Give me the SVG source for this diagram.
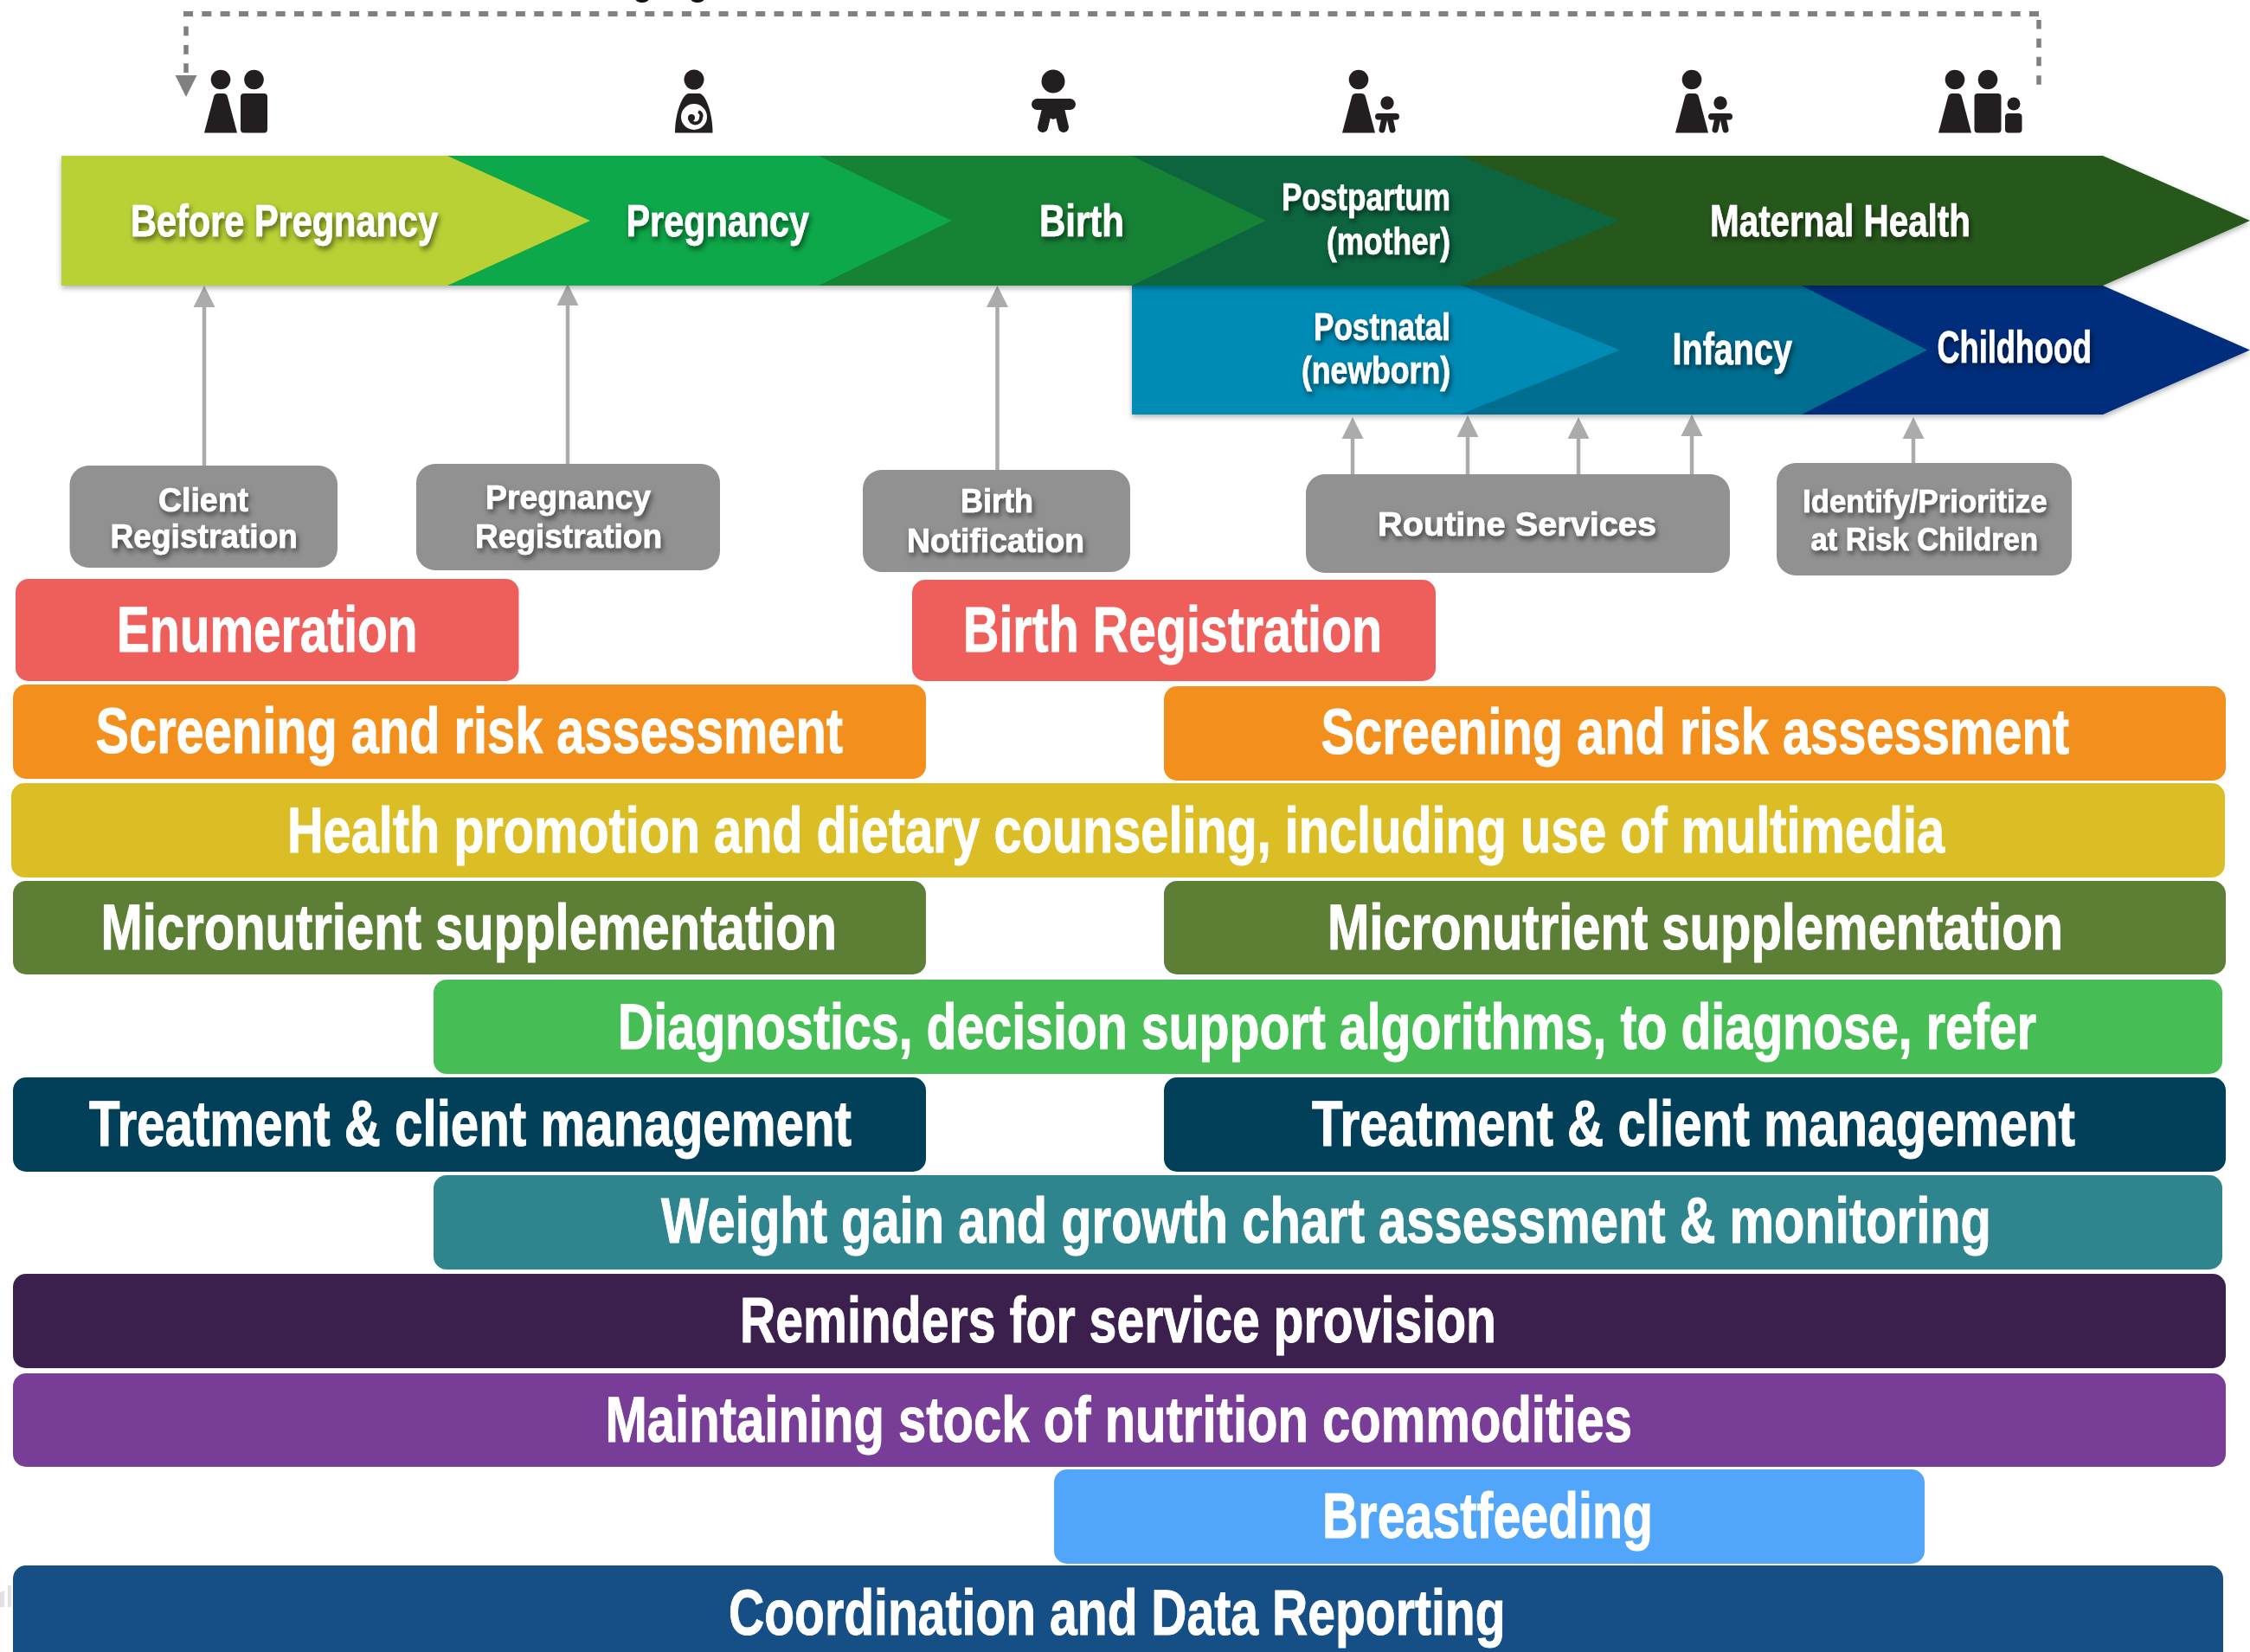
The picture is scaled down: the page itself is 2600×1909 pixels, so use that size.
<svg xmlns="http://www.w3.org/2000/svg" xmlns:xlink="http://www.w3.org/1999/xlink" width="2600" height="1909" viewBox="0 0 2600 1909">
<style>
text{font-family:"Liberation Sans",Arial,sans-serif;font-weight:700;fill:#fff;stroke:#fff;stroke-width:.7}
.s{filter:url(#ts)}
.a{font-size:52px}
.m{font-size:45px}
.b{font-size:39px}
.i{font-size:36px}
.l{font-size:74px;stroke-width:1}
.g{fill:#919191}
.ic{fill:#231f20}
.c{stroke:#ababab;stroke-width:4.5;fill:none;marker-end:url(#ah)}
.d{stroke:#808080;fill:none}
</style>
<defs>
<filter id="ts" x="-10%" y="-30%" width="120%" height="170%"><feDropShadow dx="2" dy="4" stdDeviation="3" flood-color="#000" flood-opacity=".55"/></filter>
<filter id="as" x="-5%" y="-10%" width="110%" height="125%"><feDropShadow dx="0" dy="3" stdDeviation="3" flood-color="#000" flood-opacity=".3"/></filter>
<marker id="ah" markerUnits="userSpaceOnUse" markerWidth="26" markerHeight="26" refX="0" refY="12.5" orient="auto" viewBox="0 0 26 25"><path d="M0,0L25,12.5L0,25Z" fill="#ababab"/></marker>
<marker id="dh" markerUnits="userSpaceOnUse" markerWidth="26" markerHeight="26" refX="0" refY="12.5" orient="auto" viewBox="0 0 26 25"><path d="M0,0L25,12.5L0,25Z" fill="#808080"/></marker>
<g id="woman" class="ic"><circle cx="0" cy="92" r="11.3"/><path d="M-19,153.5L-8,112Q-7,108 -3,108L3,108Q7,108 8,112L19,153.5Z"/></g>
<g id="man" class="ic"><circle cx="0" cy="92" r="11.3"/><rect x="-15.5" y="108" width="31" height="45.5" rx="4"/></g>
<g id="child"><circle class="ic" cx="0" cy="119" r="7.7"/><rect class="ic" x="-14" y="131" width="28" height="7.5" rx="3.7"/><path d="M-3,136L-6,150M3,136L6,150" stroke="#231f20" stroke-width="7" stroke-linecap="round" fill="none"/></g>
</defs>
<rect width="2600" height="1909" fill="#fff"/>

<g id="clipped-marks">
<ellipse cx="742" cy="-1" rx="7.5" ry="4" fill="#111"/>
<ellipse cx="806" cy="-1" rx="7.5" ry="4" fill="#111"/>
<path d="M0,1840L5,1838L5,1857L0,1857ZM9,1832L13,1832L13,1857L9,1857Z" fill="#e2e2e2"/>
</g>

<g id="connectors">
<path class="d" stroke-width="6" stroke-dasharray="11 10.33" d="M212,16H2357"/>
<path class="d" stroke-width="5.5" stroke-dasharray="10.5 10.9" d="M2356,23V98"/>
<path class="d" stroke-width="5.5" stroke-dasharray="10.8 10.6" marker-end="url(#dh)" d="M215,30.5V87"/>
<path class="c" d="M236,538V355"/>
<path class="c" d="M656,536V353"/>
<path class="c" d="M1152.5,543V355"/>
<path class="c" d="M1563,548V507"/>
<path class="c" d="M1696,548V505"/>
<path class="c" d="M1824,548V507"/>
<path class="c" d="M1955,548V504"/>
<path class="c" d="M2211,535V507"/>
</g>

<g id="icon-before-pregnancy"><use href="#woman" x="255"/><use href="#man" x="293.5"/></g>
<g id="icon-pregnancy">
<circle class="ic" cx="802" cy="92" r="11.5"/>
<path class="ic" d="M780,153.5C780,130 789,108 796,108L808,108C815,108 823.5,130 823.5,153.5Z"/>
<circle cx="802" cy="135" r="15" fill="#fff"/>
<path d="M797,136A6.5,6.5 0 0 0 810,136Q812,131 807,129" stroke="#231f20" stroke-width="4" fill="none"/>
<circle class="ic" cx="799" cy="136" r="4"/>
</g>
<g id="icon-birth">
<circle class="ic" cx="1217" cy="94" r="13.5"/>
<rect class="ic" x="1192" y="114" width="51" height="13" rx="6.5"/>
<path d="M1211,122L1205,147M1223,122L1229,147" stroke="#231f20" stroke-width="12" stroke-linecap="round" fill="none"/>
<path class="ic" d="M1208,122H1226L1222,136L1217,138L1212,136Z"/>
</g>
<g id="icon-postpartum"><use href="#woman" x="1570"/><use href="#child" x="1603"/></g>
<g id="icon-maternal"><use href="#woman" x="1955"/><use href="#child" x="1988"/></g>
<g id="icon-childhood"><use href="#woman" x="2259"/><use href="#man" x="2297"/>
<circle class="ic" cx="2327" cy="120" r="7.5"/><rect class="ic" x="2317" y="131" width="19.5" height="22.5" rx="4"/></g>

<g id="lifecycle-lower" filter="url(#as)">
<path d="M2082,330H2430L2600,404.5L2430,479H2082Z" fill="#002e7b"/>
<path d="M1687,330H2082L2227,404.5L2082,479H1687Z" fill="#006e91"/>
<path d="M1308,329H1687L1872,404.5L1687,479H1308Z" fill="#018bb5"/>
</g>
<g id="lifecycle-upper" filter="url(#as)">
<path d="M1687,180H2430L2600,255L2430,330H1687Z" fill="#25581b"/>
<path d="M1308,180H1687L1872,255L1687,330H1308Z" fill="#0e653f"/>
<path d="M946,180H1308L1463,255L1308,330H946Z" fill="#128235"/>
<path d="M517,180H946L1100,255L946,330H517Z" fill="#08a84a"/>
<path d="M71,180H517L682,255L517,330H71Z" fill="#b9d135"/>
</g>
<g id="lifecycle-labels">
<text class="a s" x="151" y="273" textLength="355" lengthAdjust="spacingAndGlyphs">Before Pregnancy</text>
<text class="a s" x="723.5" y="273" textLength="211.5" lengthAdjust="spacingAndGlyphs">Pregnancy</text>
<text class="a s" x="1201" y="273" textLength="98" lengthAdjust="spacingAndGlyphs">Birth</text>
<text class="m s" x="1481" y="243" textLength="195" lengthAdjust="spacingAndGlyphs">Postpartum</text>
<text class="m s" x="1533" y="294" textLength="143" lengthAdjust="spacingAndGlyphs">(mother)</text>
<text class="a s" x="1976" y="273" textLength="301" lengthAdjust="spacingAndGlyphs">Maternal Health</text>
<text class="m s" x="1518" y="393" textLength="158" lengthAdjust="spacingAndGlyphs">Postnatal</text>
<text class="m s" x="1504" y="443" textLength="172" lengthAdjust="spacingAndGlyphs">(newborn)</text>
<text class="a s" x="1932.5" y="421" textLength="138.5" lengthAdjust="spacingAndGlyphs">Infancy</text>
<text class="a s" x="2238.5" y="419" textLength="178.5" lengthAdjust="spacingAndGlyphs">Childhood</text>
</g>

<g id="client-registration"><rect class="g" x="80.5" y="538" width="309.5" height="118" rx="22"/>
<text class="b s" x="183" y="591" textLength="104" lengthAdjust="spacingAndGlyphs">Client</text>
<text class="b s" x="127.5" y="633" textLength="216.5" lengthAdjust="spacingAndGlyphs">Registration</text></g>
<g id="pregnancy-registration"><rect class="g" x="481" y="536" width="351" height="123" rx="22"/>
<text class="b s" x="561" y="588" textLength="191" lengthAdjust="spacingAndGlyphs">Pregnancy</text>
<text class="b s" x="549" y="633" textLength="216" lengthAdjust="spacingAndGlyphs">Registration</text></g>
<g id="birth-notification"><rect class="g" x="997" y="543" width="309" height="118" rx="22"/>
<text class="b s" x="1110" y="592" textLength="84" lengthAdjust="spacingAndGlyphs">Birth</text>
<text class="b s" x="1048" y="638" textLength="205" lengthAdjust="spacingAndGlyphs">Notification</text></g>
<g id="routine-services"><rect class="g" x="1509" y="548" width="490" height="114" rx="22"/>
<text class="b s" x="1592" y="619" textLength="322" lengthAdjust="spacingAndGlyphs">Routine Services</text></g>
<g id="identify-prioritize"><rect class="g" x="2053" y="535" width="341" height="130" rx="22"/>
<text class="i s" x="2083" y="592" textLength="282.5" lengthAdjust="spacingAndGlyphs">Identify/Prioritize</text>
<text class="i s" x="2092.5" y="636" textLength="262.5" lengthAdjust="spacingAndGlyphs">at Risk Children</text></g>

<g id="enumeration"><rect x="18" y="669" width="581.5" height="118" rx="15" fill="#ee5e5a"/><text class="l" x="135" y="753" textLength="347.5" lengthAdjust="spacingAndGlyphs">Enumeration</text></g>
<g id="birth-registration"><rect x="1054" y="670" width="605" height="117" rx="15" fill="#ee5e5a"/><text class="l" x="1113" y="753" textLength="484" lengthAdjust="spacingAndGlyphs">Birth Registration</text></g>
<g id="screening-left"><rect x="15" y="791" width="1055" height="109" rx="15" fill="#f3901d"/><text class="l" x="110.5" y="870" textLength="863.5" lengthAdjust="spacingAndGlyphs">Screening and risk assessment</text></g>
<g id="screening-right"><rect x="1345" y="793" width="1227" height="109" rx="15" fill="#f3901d"/><text class="l" x="1526.5" y="871" textLength="864.5" lengthAdjust="spacingAndGlyphs">Screening and risk assessment</text></g>
<g id="health-promotion"><rect x="13" y="905" width="2558" height="109" rx="15" fill="#dbbe25"/><text class="l" x="332" y="985" textLength="1915" lengthAdjust="spacingAndGlyphs">Health promotion and dietary counseling, including use of multimedia</text></g>
<g id="micronutrient-left"><rect x="15" y="1018" width="1055" height="108" rx="15" fill="#5c7f35"/><text class="l" x="116.5" y="1097" textLength="850.5" lengthAdjust="spacingAndGlyphs">Micronutrient supplementation</text></g>
<g id="micronutrient-right"><rect x="1345" y="1018" width="1227" height="108" rx="15" fill="#5c7f35"/><text class="l" x="1534" y="1097" textLength="850" lengthAdjust="spacingAndGlyphs">Micronutrient supplementation</text></g>
<g id="diagnostics"><rect x="501" y="1132" width="2067" height="109" rx="15" fill="#47bd56"/><text class="l" x="714" y="1212" textLength="1639" lengthAdjust="spacingAndGlyphs">Diagnostics, decision support algorithms, to diagnose, refer</text></g>
<g id="treatment-left"><rect x="15" y="1245" width="1055" height="109" rx="15" fill="#024059"/><text class="l" x="103" y="1324" textLength="881" lengthAdjust="spacingAndGlyphs">Treatment &amp; client management</text></g>
<g id="treatment-right"><rect x="1345" y="1245" width="1227" height="109" rx="15" fill="#024059"/><text class="l" x="1516" y="1324" textLength="882" lengthAdjust="spacingAndGlyphs">Treatment &amp; client management</text></g>
<g id="weight-gain"><rect x="501" y="1358" width="2067" height="109" rx="15" fill="#2e858e"/><text class="l" x="764" y="1436" textLength="1537" lengthAdjust="spacingAndGlyphs">Weight gain and growth chart assessment &amp; monitoring</text></g>
<g id="reminders"><rect x="15" y="1472" width="2557" height="109" rx="15" fill="#3b204e"/><text class="l" x="855" y="1551" textLength="874" lengthAdjust="spacingAndGlyphs">Reminders for service provision</text></g>
<g id="stock"><rect x="15" y="1587" width="2557" height="108" rx="15" fill="#783e97"/><text class="l" x="699.5" y="1666" textLength="1186.5" lengthAdjust="spacingAndGlyphs">Maintaining stock of nutrition commodities</text></g>
<g id="breastfeeding"><rect x="1218" y="1698" width="1006" height="109" rx="15" fill="#51a6fb"/><text class="l" x="1528" y="1777" textLength="382" lengthAdjust="spacingAndGlyphs">Breastfeeding</text></g>
<g id="coordination"><rect x="15" y="1809" width="2554" height="130" rx="15" fill="#164f85"/><text class="l" x="842" y="1889" textLength="897.5" lengthAdjust="spacingAndGlyphs">Coordination and Data Reporting</text></g>
</svg>
